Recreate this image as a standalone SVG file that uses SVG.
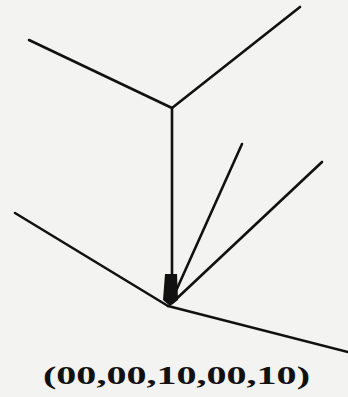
<svg xmlns="http://www.w3.org/2000/svg" width="348" height="397" viewBox="0 0 348 397">
<style>
.ln{stroke:#111;stroke-width:2.6;fill:none;stroke-linecap:round}
.lbl{font-family:"Liberation Serif",serif;font-weight:bold;font-size:26px;fill:#111}
</style>
<rect width="348" height="397" fill="#f3f3f1"/>
<g id="connectors">
<line class="ln" x1="29" y1="40" x2="172" y2="108"/>
<line class="ln" x1="300" y1="7" x2="172" y2="108"/>
<line class="ln" x1="172" y1="108" x2="172" y2="280"/>
<line class="ln" x1="242" y1="144" x2="171" y2="302"/>
<line class="ln" x1="322" y1="162" x2="172" y2="303"/>
<line class="ln" x1="15" y1="213" x2="168" y2="306"/>
<line class="ln" x1="168" y1="306" x2="348" y2="352"/>
<polygon points="165,274 177,274 178,300 170,306 163,300" fill="#111"/>
</g>
<g id="label">
<text class="lbl" x="43" y="384" textLength="267" lengthAdjust="spacingAndGlyphs">(00,00,10,00,10)</text>
</g>
</svg>
